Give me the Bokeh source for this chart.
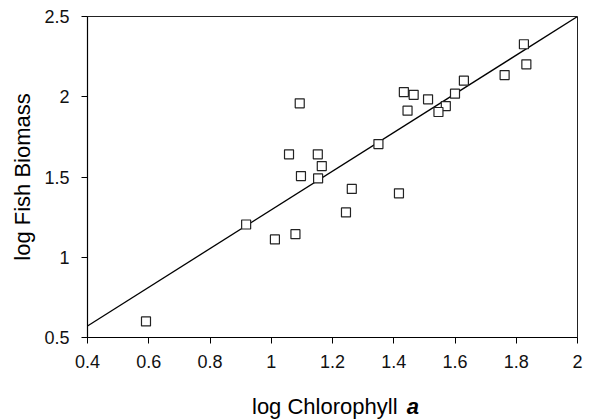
from bokeh.plotting import figure
from bokeh.models import Range1d, FixedTicker, Div
from bokeh.layouts import column
from bokeh.embed import file_html
from bokeh.resources import INLINE

# data
chl = [1.093, 1.058, 1.152, 1.165, 1.097, 1.153, 1.825, 1.833, 1.762, 1.629,
       1.433, 1.465, 1.512, 1.600, 1.445, 1.570, 1.546, 1.350, 1.263, 1.417,
       0.918, 1.012, 1.079, 0.591, 1.244]
fish = [1.959, 1.641, 1.641, 1.568, 1.506, 1.491, 2.327, 2.202, 2.135, 2.100,
        2.029, 2.012, 1.984, 2.019, 1.913, 1.942, 1.905, 1.705, 1.426, 1.398,
        1.204, 1.111, 1.144, 0.600, 1.279]
fit_x = [0.4, 2.0]
fit_y = [0.572, 2.5]

x_ticks = [0.4, 0.6, 0.8, 1.0, 1.2, 1.4, 1.6, 1.8, 2.0]
x_tick_labels = ["0.4", "0.6", "0.8", "1", "1.2", "1.4", "1.6", "1.8", "2"]
y_ticks = [0.5, 1.0, 1.5, 2.0, 2.5]
y_tick_labels = ["0.5", "1", "1.5", "2", "2.5"]

FONT = "Liberation Sans"

p = figure(width=589, height=380, output_backend="svg", toolbar_location=None,
           x_range=Range1d(0.4, 2.0), y_range=Range1d(0.5, 2.5),
           min_border_left=87, min_border_right=12, min_border_top=16, min_border_bottom=43)
p.background_fill_color = "white"
p.border_fill_color = "white"
p.outline_line_color = "#222222"
p.outline_line_width = 1
p.grid.visible = False

p.line(fit_x, fit_y, line_color="black", line_width=1.3)
p.scatter(chl, fish, marker="square", size=9, fill_color="white",
          line_color="#222222", line_width=1.2)

for ax in (p.xaxis[0], p.yaxis[0]):
    ax.axis_line_color = "black"
    ax.axis_line_width = 1.2
    ax.major_tick_line_color = "black"
    ax.major_tick_out = 6
    ax.major_tick_in = 0
    ax.minor_tick_line_color = None
    ax.major_label_text_font = FONT
    ax.major_label_text_font_size = "18px"
    ax.major_label_text_color = "#111111"

p.xaxis.ticker = FixedTicker(ticks=x_ticks)
p.xaxis.major_label_overrides = dict(zip(x_ticks, x_tick_labels))
p.xaxis.major_label_standoff = 11
p.yaxis.ticker = FixedTicker(ticks=y_ticks)
p.yaxis.major_label_overrides = dict(zip(y_ticks, y_tick_labels))
p.yaxis.major_label_standoff = 12

p.yaxis.axis_label = "log Fish Biomass"
p.yaxis.axis_label_text_font = FONT
p.yaxis.axis_label_text_font_size = "22px"
p.yaxis.axis_label_text_font_style = "normal"
p.yaxis.axis_label_text_color = "black"
p.yaxis.axis_label_standoff = 6

xlabel = Div(
    text='log Chlorophyll&nbsp;<b><i style="margin-left:3px">a</i></b>',
    width=589, height=40, margin=0,
    styles={"font-family": FONT, "font-size": "22px", "line-height": "22px",
            "padding-top": "16px", "padding-left": "252px", "color": "black",
            "box-sizing": "border-box", "white-space": "nowrap"})

layout = column(p, xlabel, spacing=0)
open("out.html", "w").write(file_html(layout, INLINE))
